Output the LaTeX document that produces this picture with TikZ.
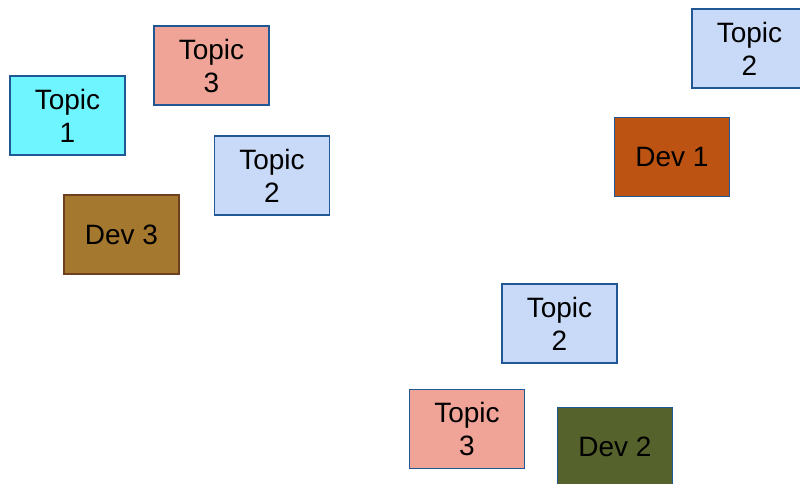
\documentclass[tikz,border=0pt]{standalone}
\usepackage{fontspec}
\setmainfont{Liberation Sans}
\definecolor{edgeblue}{RGB}{31,88,148}
\definecolor{edgebrown}{RGB}{110,64,32}
\definecolor{cyanfill}{RGB}{110,245,255}
\definecolor{salmonfill}{RGB}{240,164,152}
\definecolor{paleblue}{RGB}{201,218,248}
\definecolor{ochre}{RGB}{165,120,47}
\definecolor{rust}{RGB}{188,83,19}
\definecolor{olive}{RGB}{85,98,43}
\tikzset{
  card/.style={draw=edgeblue, line width=1.5pt, minimum width=115pt, minimum height=79pt,
    inner sep=0pt, align=center, font=\fontsize{28}{33}\selectfont},
  topicone/.style={card, fill=cyanfill},
  topictwo/.style={card, fill=paleblue},
  topicthree/.style={card, fill=salmonfill},
}
\begin{document}
\begin{tikzpicture}[x=1pt,y=-1pt]
  \useasboundingbox (0,0) rectangle (800,483);
  \clip (0,0) rectangle (800,483);
  \fill[white] (0,0) rectangle (800,483);
  % left cluster
  \node[topicone]   (t1)  at (67.5,115.5) {Topic\\1};
  \node[topicthree] (t3a) at (211.5,65.5) {Topic\\3};
  \node[topictwo]   (t2a) at (272,175.5)  {Topic\\2};
  \node[card, fill=ochre, draw=edgebrown] (d3) at (121.5,234.5) {Dev 3};
  % upper right
  \node[topictwo]   (t2b) at (749.5,48.5) {Topic\\2};
  \node[card, fill=rust] (d1) at (672,157) {Dev 1};
  % lower right
  \node[topictwo]   (t2c) at (559.5,323.5) {Topic\\2};
  \node[topicthree] (t3b) at (467,429)     {Topic\\3};
  \node[card, fill=olive] (d2) at (615,447) {Dev 2};
\end{tikzpicture}
\end{document}
